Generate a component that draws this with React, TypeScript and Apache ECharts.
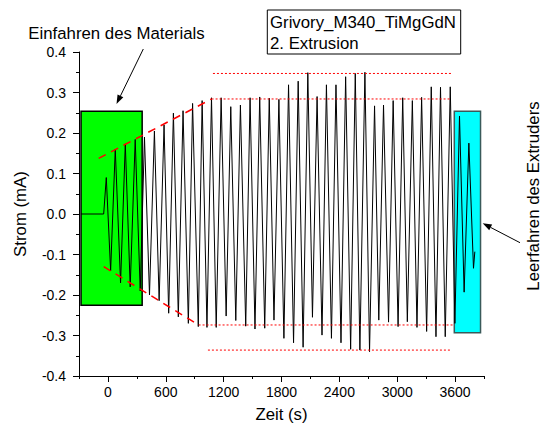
import React, { useEffect, useRef } from "react";
import * as echarts from "echarts";

// ---- data ----
const times = [
  -280, -44, -17, 28, 76, 131, 180, 231, 283, 335,
  379, 431, 482, 531, 582, 630, 679, 730, 779, 834,
  878, 937, 977, 1027, 1074, 1123, 1174, 1226, 1274, 1326,
  1374, 1429, 1474, 1525, 1574, 1626, 1673, 1722, 1773, 1825,
  1873, 1925, 1973, 2024, 2073, 2121, 2169, 2220, 2266, 2318,
  2365, 2417, 2465, 2517, 2565, 2613, 2665, 2713, 2765, 2809,
  2858, 2910, 2958, 3009, 3057, 3105, 3157, 3205, 3253, 3305,
  3353, 3402, 3449, 3498, 3550, 3598, 3646, 3694, 3743, 3791,
  3805,
];
const current = [
  0, 0, 0.09, -0.14, 0.16, -0.17, 0.173, -0.18, 0.184, -0.19,
  0.19, -0.2, 0.205, -0.214, 0.22, -0.245, 0.249, -0.254, 0.255, -0.27,
  0.273, -0.278, 0.28, -0.28, 0.287, -0.28, 0.287, -0.252, 0.265, -0.263,
  0.269, -0.277, 0.287, -0.284, 0.289, -0.282, 0.286, -0.262, 0.283, -0.307,
  0.319, -0.318, 0.328, -0.329, 0.349, -0.255, 0.29, -0.299, 0.319, -0.307,
  0.319, -0.318, 0.339, -0.334, 0.347, -0.336, 0.35, -0.34, 0.267, -0.262,
  0.269, -0.267, 0.28, -0.278, 0.287, -0.266, 0.28, -0.28, 0.288, -0.29,
  0.314, -0.303, 0.313, -0.303, 0.314, -0.27, 0.242, -0.193, 0.175, -0.134,
  -0.093,
];

// envelope (dashed) lines: [x1, y1, x2, y2]
const dashedEnvelopes = [
  [-96, 0.1375, 1075, 0.284],
  [-44, -0.13, 940, -0.274],
];
// dotted level lines: [xFrom, xTo, y]
const dottedLevels = [
  [1089, 3574, 0.347],
  [1075, 3555, 0.284],
  [940, 3592, -0.274],
  [1037, 3557, -0.336],
];
// highlighted regions: [x1, yTop, x2, yBottom]
const greenBox = [-279, 0.2536, 355, -0.225];
const cyanBox = [3592, 0.2536, 3864, -0.293];

const xMajorTicks = [0, 600, 1200, 1800, 2400, 3000, 3600];
const xMinorTicks = [-300, 300, 900, 1500, 2100, 2700, 3300, 3900];

const FONT = "'Liberation Sans', Arial, Helvetica, sans-serif";

function arrow(x1: number, y1: number, x2: number, y2: number) {
  const dx = x2 - x1;
  const dy = y2 - y1;
  const len = Math.sqrt(dx * dx + dy * dy);
  const ux = dx / len;
  const uy = dy / len;
  const hl = 9;
  const hw = 3.2;
  const bx = x2 - ux * hl;
  const by = y2 - uy * hl;
  const nx = -uy;
  const ny = ux;
  return [
    {
      type: "line",
      shape: { x1, y1, x2: bx, y2: by },
      style: { stroke: "#000", lineWidth: 1 },
    },
    {
      type: "polygon",
      shape: {
        points: [
          [x2, y2],
          [bx + nx * hw, by + ny * hw],
          [bx - nx * hw, by - ny * hw],
        ],
      },
      style: { fill: "#000" },
    },
  ];
}

export default function App() {
  const ref = useRef<HTMLDivElement>(null);

  useEffect(() => {
    document.body.style.margin = "0";
    if (!ref.current) return;
    const chart = echarts.init(ref.current, undefined, { renderer: "svg" });

    const lineData = times.map((t, i) => [t, current[i]]);

    const guideSeries: any[] = [];
    dashedEnvelopes.forEach(([x1, y1, x2, y2]) => {
      guideSeries.push({
        type: "line",
        data: [
          [x1, y1],
          [x2, y2],
        ],
        z: 6,
        silent: true,
        symbol: "none",
        showSymbol: false,
        color: "#ff0000",
        lineStyle: { color: "#ff0000", width: 1.5, type: [8, 6] },
      });
    });
    dottedLevels.forEach(([a, b, y]) => {
      guideSeries.push({
        type: "line",
        data: [
          [a, y],
          [b, y],
        ],
        z: 6,
        silent: true,
        symbol: "none",
        showSymbol: false,
        color: "#ff0000",
        lineStyle: { color: "#ff0000", width: 1, type: [2, 2] },
      });
    });

    const option: any = {
      animation: false,
      textStyle: { fontFamily: FONT },
      grid: { left: 79, right: 61, top: 52, bottom: 52 },
      xAxis: [
        {
          type: "value",
          min: -300,
          max: 3900,
          name: "Zeit (s)",
          nameLocation: "middle",
          nameGap: 30,
          nameTextStyle: { fontSize: 16.8, color: "#000", fontFamily: FONT },
          axisLine: { show: true, onZero: false, lineStyle: { color: "#000", width: 1 } },
          axisTick: {
            show: true,
            customValues: xMajorTicks,
            length: 6,
            lineStyle: { color: "#000", width: 1 },
          },
          axisLabel: {
            customValues: xMajorTicks,
            fontSize: 14,
            color: "#000",
            margin: 9,
            fontFamily: FONT,
            formatter: (v: number) => String(v),
          },
          splitLine: { show: false },
        },
        {
          type: "value",
          min: -300,
          max: 3900,
          position: "bottom",
          axisLine: { show: false, onZero: false },
          axisTick: {
            show: true,
            customValues: xMinorTicks,
            length: 3,
            lineStyle: { color: "#000", width: 1 },
          },
          axisLabel: { show: false },
          splitLine: { show: false },
        },
      ],
      yAxis: {
        type: "value",
        min: -0.4,
        max: 0.4,
        interval: 0.1,
        name: "Strom (mA)",
        nameLocation: "middle",
        nameGap: 50,
        nameTextStyle: { fontSize: 16.8, color: "#000", fontFamily: FONT },
        axisLine: { show: true, onZero: false, lineStyle: { color: "#000", width: 1 } },
        axisTick: { show: true, length: 6, lineStyle: { color: "#000", width: 1 } },
        minorTick: { show: true, splitNumber: 2, length: 3, lineStyle: { color: "#000", width: 1 } },
        axisLabel: {
          fontSize: 14,
          color: "#000",
          margin: 13,
          fontFamily: FONT,
          formatter: (v: number) => (Math.abs(v) < 1e-9 ? 0 : v).toFixed(1),
        },
        splitLine: { show: false },
      },
      series: [
        {
          type: "line",
          data: [],
          z: 1,
          silent: true,
          markArea: {
            silent: true,
            data: [
              [
                {
                  coord: [greenBox[0], greenBox[1]],
                  itemStyle: { color: "#00ff00", borderColor: "#000", borderWidth: 1.5 },
                },
                { coord: [greenBox[2], greenBox[3]] },
              ],
              [
                {
                  coord: [cyanBox[0], cyanBox[1]],
                  itemStyle: { color: "#00ffff", borderColor: "#3a5a5a", borderWidth: 1.5 },
                },
                { coord: [cyanBox[2], cyanBox[3]] },
              ],
            ],
          },
        },
        {
          type: "line",
          data: lineData,
          z: 5,
          symbol: "none",
          showSymbol: false,
          silent: true,
          lineStyle: { color: "#000", width: 1 },
        },
        ...guideSeries,
      ],
      graphic: [
        {
          type: "text",
          x: 28.3,
          y: 33.4,
          style: {
            text: "Einfahren des Materials",
            fontSize: 16.8,
            fontFamily: FONT,
            fill: "#000",
            textAlign: "left",
            textVerticalAlign: "middle",
          },
        },
        ...arrow(143.3, 49, 116.5, 104),
        {
          type: "rect",
          shape: { x: 267.3, y: 10, width: 193.4, height: 44 },
          style: { fill: "#fff", stroke: "#000", lineWidth: 1 },
        },
        {
          type: "text",
          x: 270,
          y: 22.4,
          style: {
            text: "Grivory_M340_TiMgGdN",
            fontSize: 16.8,
            fontFamily: FONT,
            fill: "#000",
            textAlign: "left",
            textVerticalAlign: "middle",
          },
        },
        {
          type: "text",
          x: 270,
          y: 43,
          style: {
            text: "2. Extrusion",
            fontSize: 16.8,
            fontFamily: FONT,
            fill: "#000",
            textAlign: "left",
            textVerticalAlign: "middle",
          },
        },
        ...arrow(520, 242.7, 482.7, 223.3),
        {
          type: "text",
          x: 533,
          y: 196,
          rotation: Math.PI / 2,
          style: {
            text: "Leerfahren des Extruders",
            fontSize: 16.8,
            fontFamily: FONT,
            fill: "#000",
            textAlign: "center",
            textVerticalAlign: "middle",
          },
        },
      ],
    };

    chart.setOption(option);
    return () => chart.dispose();
  }, []);

  return (
    <div
      ref={ref}
      style={{ width: 545, height: 428, position: "absolute", left: 0, top: 0, background: "#fff" }}
    />
  );
}
